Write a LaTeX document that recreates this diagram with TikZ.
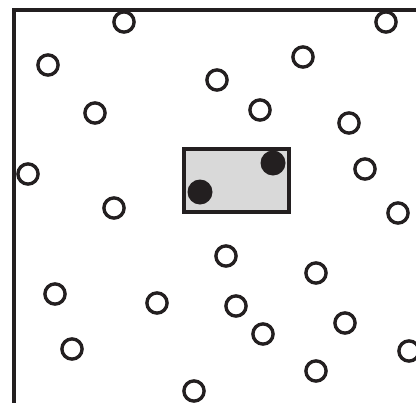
\documentclass[tikz,border=0pt]{standalone}
\definecolor{ink}{RGB}{35,31,32}
\begin{document}
\begin{tikzpicture}[x=0.5mm, y=-0.5mm,
    part/.style={draw=ink, circle, line width=1.7mm, minimum size=10.1mm, inner sep=0pt},
    dot/.style={fill=ink, circle, minimum size=12.5mm, inner sep=0pt},
    win/.style={draw=ink, fill=black!15, line width=2mm, minimum width=52.5mm,
                minimum height=31.5mm, inner sep=0pt},
    frame/.style={draw=ink, line width=2mm}]

  \useasboundingbox (0,0) rectangle (416,402);
  \clip (0,0) rectangle (416,402);

  % sampling window
  \node[win] (win) at (236.5,180.5) {};
  \node[dot] (d1) at (200,192) {};
  \node[dot] (d2) at (273,163) {};

  % particles
  \node[part] (c1)  at (124,22)  {};
  \node[part] (c2)  at (386,22)  {};
  \node[part] (c3)  at (48,65)   {};
  \node[part] (c4)  at (303,57)  {};
  \node[part] (c5)  at (217,80)  {};
  \node[part] (c6)  at (95,113)  {};
  \node[part] (c7)  at (260,110) {};
  \node[part] (c8)  at (349,123) {};
  \node[part] (c9)  at (28,174)  {};
  \node[part] (c10) at (365,169) {};
  \node[part] (c11) at (114,208) {};
  \node[part] (c12) at (398,213) {};
  \node[part] (c13) at (226,256) {};
  \node[part] (c14) at (316,273) {};
  \node[part] (c15) at (55,294)  {};
  \node[part] (c16) at (157,303) {};
  \node[part] (c17) at (236,306) {};
  \node[part] (c18) at (345,323) {};
  \node[part] (c19) at (263,334) {};
  \node[part] (c20) at (72,349)  {};
  \node[part] (c21) at (409,351) {};
  \node[part] (c22) at (316,371) {};
  \node[part] (c23) at (194,391) {};

  % box edges
  \coordinate (tr) at (430,10);
  \coordinate (tl) at (14,10);
  \coordinate (bl) at (14,420);
  \draw[frame] (tr) -- (tl) -- (bl);
\end{tikzpicture}
\end{document}
